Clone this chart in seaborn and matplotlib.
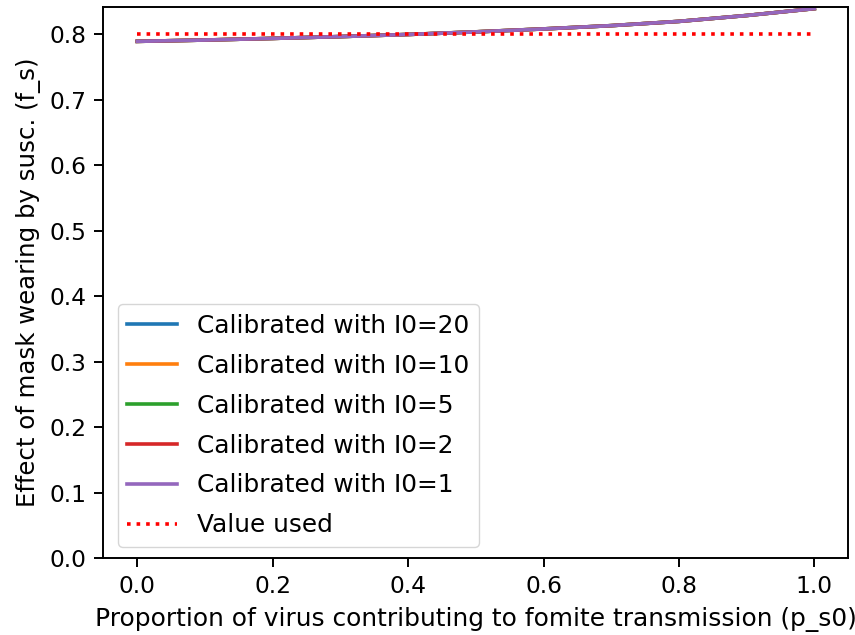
import matplotlib
matplotlib.use("Agg")
import matplotlib.pyplot as plt
import seaborn as sns
import pandas as pd

p_s0 = [0.0, 0.1, 0.2, 0.3, 0.4, 0.5, 0.6, 0.7, 0.8, 0.9, 1.0]
fs_I0_20 = [0.7895, 0.7915, 0.7940, 0.7968, 0.8000, 0.8040, 0.8085, 0.8135, 0.8200, 0.8290, 0.8395]
fs_I0_10 = [0.7895, 0.7915, 0.7940, 0.7968, 0.8000, 0.8040, 0.8085, 0.8135, 0.8200, 0.8290, 0.8395]
fs_I0_5 = [0.7895, 0.7915, 0.7940, 0.7968, 0.8000, 0.8040, 0.8085, 0.8135, 0.8200, 0.8290, 0.8395]
fs_I0_2 = [0.7895, 0.7915, 0.7940, 0.7968, 0.8000, 0.8040, 0.8085, 0.8135, 0.8200, 0.8290, 0.8395]
fs_I0_1 = [0.7895, 0.7915, 0.7940, 0.7968, 0.8000, 0.8040, 0.8085, 0.8135, 0.8200, 0.8290, 0.8395]
value_used = 0.8
labels = ["Calibrated with I0=20", "Calibrated with I0=10", "Calibrated with I0=5",
          "Calibrated with I0=2", "Calibrated with I0=1"]
series = [fs_I0_20, fs_I0_10, fs_I0_5, fs_I0_2, fs_I0_1]

rows = []
for lab, vals in zip(labels, series):
    for x, y in zip(p_s0, vals):
        rows.append({"p_s0": x, "f_s": y, "series": lab})
df = pd.DataFrame(rows)

plt.rcParams["font.family"] = ["DejaVu Sans"]
plt.rcParams["font.size"] = 17

fig, ax = plt.subplots(figsize=(8.55, 6.35), dpi=100)
fig.subplots_adjust(left=0.121, right=0.992, top=0.989, bottom=0.121)

palette = ["#1f77b4", "#ff7f0e", "#2ca02c", "#d62728", "#9467bd"]
sns.lineplot(data=df, x="p_s0", y="f_s", hue="series", palette=palette, ax=ax,
             linewidth=2.6, estimator=None)
sns.lineplot(x=p_s0, y=[value_used] * len(p_s0), color="red", linestyle=":",
             linewidth=2.6, ax=ax, label="Value used")

ax.set_ylim(bottom=0)
ax.set_yticks([0.0, 0.1, 0.2, 0.3, 0.4, 0.5, 0.6, 0.7, 0.8])
ax.set_xticks([0.0, 0.2, 0.4, 0.6, 0.8, 1.0])
ax.set_xlabel("Proportion of virus contributing to fomite transmission (p_s0)", fontsize=17.9, labelpad=6)
ax.set_ylabel("Effect of mask wearing by susc. (f_s)", fontsize=17.6, labelpad=6)
ax.tick_params(axis="both", which="both", length=6.3, width=1.4, labelsize=16.8,
               bottom=True, left=True, pad=6)
for s in ax.spines.values():
    s.set_color("black")
    s.set_linewidth(1.4)
leg = ax.legend(loc="lower left", fontsize=17.8, title=None, labelspacing=0.64,
                borderaxespad=0, bbox_to_anchor=(0.019, 0.02))

fig.savefig("out.png", dpi=100)
